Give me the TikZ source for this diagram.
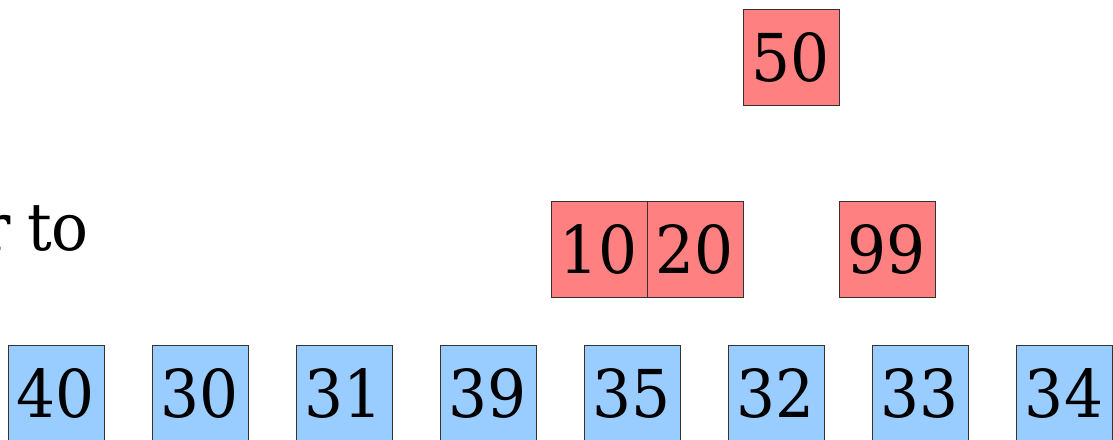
\documentclass[tikz,border=0pt]{standalone}
\usepackage{fontspec}
\setmainfont{DejaVu Serif}[FakeStretch=0.93]
\definecolor{redbox}{RGB}{255,128,128}
\definecolor{bluebox}{RGB}{153,204,255}
\begin{document}
\begin{tikzpicture}[x=1pt,y=-1pt,
  cell/.style={draw=black!80,line width=0.9pt,minimum size=96pt,inner sep=0pt,
    font=\fontsize{66}{80}\selectfont},
  rcell/.style={cell,fill=redbox},
  bcell/.style={cell,fill=bluebox}]
\useasboundingbox (0,0) rectangle (1113,439);
\clip (0,0) rectangle (1113,439);
\node[rcell] (n50) at (791,57) {50};
\node[rcell] (n10) at (599,249) {10};
\node[rcell] (n20) at (695,249) {20};
\node[rcell] (n99) at (887,249) {99};
\node[bcell] (b40) at (56,393) {40};
\node[bcell] (b30) at (200,393) {30};
\node[bcell] (b31) at (344,393) {31};
\node[bcell] (b39) at (488,393) {39};
\node[bcell] (b35) at (632,393) {35};
\node[bcell] (b32) at (776,393) {32};
\node[bcell] (b33) at (920,393) {33};
\node[bcell] (b34) at (1064,393) {34};
\node[anchor=base east,inner sep=0pt,font=\fontsize{66}{80}\selectfont] (txt) at (89,250) {r\hspace{16pt}to};
\end{tikzpicture}
\end{document}
